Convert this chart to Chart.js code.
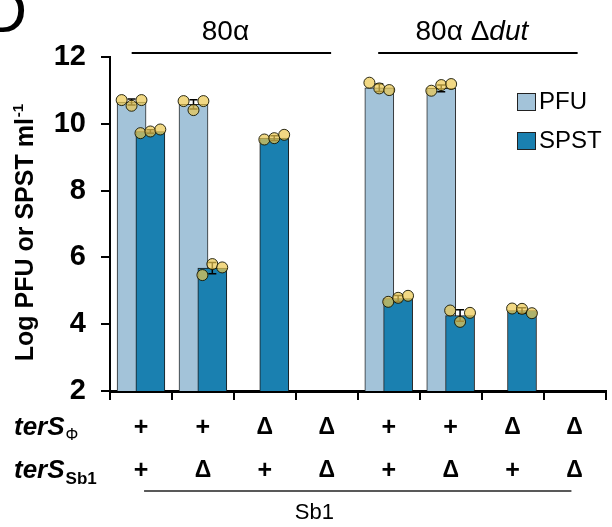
<!DOCTYPE html>
<html>
<head>
<meta charset="utf-8">
<script src="https://cdn.jsdelivr.net/npm/chart.js@4"></script>
<style>
  body { margin: 0; background: #fff; }
</style>
</head>
<body>
<canvas id="chart" width="612" height="527"></canvas>
<script>
// phage groups and the terS genotype rows under the axis
const groupLabels = ['80α', '80α Δ'];
const terSPhi = ['+', '+', 'Δ', 'Δ', '+', '+', 'Δ', 'Δ'];
const terSSb1 = ['+', 'Δ', '+', 'Δ', '+', 'Δ', '+', 'Δ'];
const yTicks = [2, 4, 6, 8, 10, 12];

// bar heights (mean log titre), null = not measured
const pfuMean  = [10.65, 10.58, null, null, 11.08, 11.06, null, null];
const spstMean = [9.77, 5.68, 9.57, null, 4.77, 4.26, 4.41, null];
const pfuErr   = [0.09, 0.14, 0, 0, 0.11, 0.10, 0, 0];
const spstErr  = [0.05, 0.17, 0.07, 0, 0.09, 0.17, 0.08, 0];

// replicate points
const pfuReps  = [[10.71, 10.54, 10.71], [10.68, 10.41, 10.68], null, null,
                  [11.23, 11.06, 11.01], [10.99, 11.16, 11.19], null, null];
const spstReps = [[9.72, 9.77, 9.83], [5.47, 5.80, 5.70], [9.53, 9.57, 9.67], null,
                  [4.67, 4.79, 4.85], [4.41, 4.07, 4.34], [4.47, 4.46, 4.33], null];

const FONT = '"Liberation Sans", Arial, sans-serif';
const PFU_SHIFT = -0.152;
const SPST_SHIFT = 0.152;
const jitter = [-0.16, 0, 0.16];

const barPoints = (vals, shift) => vals.map((v, i) => ({ x: i + 0.5 + shift, y: v }));

const dots = [];
[[pfuReps, PFU_SHIFT], [spstReps, SPST_SHIFT]].forEach(([reps, shift]) => {
    reps.forEach((r, i) => {
        if (!r) return;
        r.forEach((v, j) => dots.push({ x: i + 0.5 + shift + jitter[j], y: v }));
    });
});

const deco = {
    id: 'deco',
    beforeDatasetDraw(chart, args) {
        if (args.index !== 2) return;
        const { x, y } = chart.scales;
        const ctx = chart.ctx;
        ctx.save();
        ctx.strokeStyle = '#000';
        ctx.lineWidth = 1.5;
        [[pfuMean, pfuErr, PFU_SHIFT], [spstMean, spstErr, SPST_SHIFT]].forEach(([m, e, sh]) => {
            m.forEach((v, i) => {
                if (v == null || !e[i]) return;
                const px = x.getPixelForValue(i + 0.5 + sh);
                const top = y.getPixelForValue(v + e[i]);
                const bot = y.getPixelForValue(v - e[i]);
                ctx.beginPath();
                ctx.moveTo(px, top); ctx.lineTo(px, bot);
                ctx.moveTo(px - 4, top); ctx.lineTo(px + 4, top);
                ctx.moveTo(px - 4, bot); ctx.lineTo(px + 4, bot);
                ctx.stroke();
            });
        });
        ctx.restore();
    },
    afterDraw(chart) {
        const { x, y } = chart.scales;
        const ctx = chart.ctx;
        ctx.save();
        ctx.fillStyle = '#000';
        ctx.strokeStyle = '#000';

        // panel letter, mostly off the page
        ctx.font = `62px ${FONT}`;
        ctx.textAlign = 'right';
        ctx.textBaseline = 'alphabetic';
        ctx.fillText('D', 27, 32);

        // phage group headers
        ctx.lineWidth = 2;
        [[0.35, 3.57], [4.33, 7.55]].forEach(([a, b], g) => {
            const x0 = x.getPixelForValue(a), x1 = x.getPixelForValue(b);
            ctx.beginPath(); ctx.moveTo(x0, 53); ctx.lineTo(x1, 53); ctx.stroke();
            const cx = (x0 + x1) / 2 - 6;
            ctx.textAlign = 'left';
            ctx.font = `28px ${FONT}`;
            const w1 = ctx.measureText(groupLabels[g]).width;
            let w2 = 0;
            if (g === 1) { ctx.font = `italic 28px ${FONT}`; w2 = ctx.measureText('dut').width; }
            const sx = cx - (w1 + w2) / 2;
            ctx.font = `28px ${FONT}`;
            ctx.fillText(groupLabels[g], sx, 40);
            if (g === 1) { ctx.font = `italic 28px ${FONT}`; ctx.fillText('dut', sx + w1, 40); }
        });

        // legend
        [['PFU', '#a3c3d9', 93], ['SPST', '#1a80b0', 132]].forEach(([t, c, ty]) => {
            ctx.fillStyle = c;
            ctx.fillRect(517, ty, 18, 17);
            ctx.lineWidth = 1;
            ctx.strokeStyle = '#222';
            ctx.strokeRect(517.5, ty + 0.5, 18, 17);
            ctx.fillStyle = '#000';
            ctx.font = `24px ${FONT}`;
            ctx.textAlign = 'left';
            ctx.textBaseline = 'middle';
            ctx.fillText(t, 539, ty + 9);
        });

        // y title
        ctx.save();
        ctx.translate(33, 233);
        ctx.rotate(-Math.PI / 2);
        ctx.textBaseline = 'alphabetic';
        ctx.font = `bold 25px ${FONT}`;
        const main = 'Log PFU or SPST ml';
        const wm = ctx.measureText(main).width;
        ctx.font = `bold 15px ${FONT}`;
        const ws = ctx.measureText('-1').width;
        const s0 = -(wm + ws) / 2;
        ctx.font = `bold 25px ${FONT}`;
        ctx.textAlign = 'left';
        ctx.fillText(main, s0, 0);
        ctx.font = `bold 15px ${FONT}`;
        ctx.fillText('-1', s0 + wm + 1, -10);
        ctx.restore();

        // genotype table
        const rowY = [428, 471];
        ctx.textBaseline = 'middle';
        ctx.textAlign = 'left';
        ctx.font = `italic bold 26px ${FONT}`;
        ctx.fillText('terS', 14, rowY[0]);
        const wt = ctx.measureText('terS').width;
        ctx.font = `16px ${FONT}`;
        ctx.fillText('Φ', 14 + wt + 1, rowY[0] + 8);
        ctx.font = `italic bold 26px ${FONT}`;
        ctx.fillText('terS', 14, rowY[1]);
        ctx.font = `bold 17px ${FONT}`;
        ctx.fillText('Sb1', 14 + wt + 1, rowY[1] + 8);

        ctx.textAlign = 'center';
        [terSPhi, terSSb1].forEach((row, r) => {
            row.forEach((s, i) => {
                const px = x.getPixelForValue(i + 0.5);
                ctx.font = s === '+' ? `bold 25px ${FONT}` : `bold 23px ${FONT}`;
                ctx.fillText(s, px, rowY[r]);
            });
        });

        ctx.lineWidth = 1.5;
        ctx.beginPath();
        ctx.moveTo(x.getPixelForValue(0.55), 491);
        ctx.lineTo(x.getPixelForValue(7.45), 491);
        ctx.stroke();
        ctx.font = `22px ${FONT}`;
        ctx.fillText('Sb1', x.getPixelForValue(3.3), 513);
        ctx.restore();
    }
};

new Chart(document.getElementById('chart'), {
    type: 'bar',
    data: {
        datasets: [
            {
                label: 'PFU',
                data: barPoints(pfuMean, PFU_SHIFT),
                backgroundColor: '#a3c3d9',
                borderColor: '#2b2b2b',
                borderWidth: 1,
                barThickness: 29,
                grouped: false,
                order: 3
            },
            {
                label: 'SPST',
                data: barPoints(spstMean, SPST_SHIFT),
                backgroundColor: '#1a80b0',
                borderColor: '#1b1b1b',
                borderWidth: 1,
                barThickness: 29,
                grouped: false,
                order: 2
            },
            {
                type: 'scatter',
                label: 'reps',
                data: dots,
                pointRadius: 5.5,
                backgroundColor: 'rgba(235, 200, 80, 0.7)',
                borderColor: 'rgba(20, 20, 0, 0.9)',
                borderWidth: 1,
                order: 0
            }
        ]
    },
    options: {
        responsive: false,
        animation: false,
        layout: { padding: { top: 57, right: 3, left: 0, bottom: 0 } },
        plugins: { legend: { display: false }, tooltip: { enabled: false } },
        scales: {
            x: {
                type: 'linear',
                min: 0,
                max: 8,
                offset: false,
                ticks: { display: false, stepSize: 1 },
                grid: { drawOnChartArea: false, drawTicks: true, tickLength: 9, color: '#000', lineWidth: 2, offset: false },
                border: { color: '#000', width: 3 },
                afterFit: s => { s.height = 136; s.paddingLeft = 0; s.paddingRight = 0; }
            },
            y: {
                min: 2,
                max: 12,
                afterBuildTicks: s => { s.ticks = yTicks.map(v => ({ value: v })); },
                ticks: { color: '#000', padding: 15, font: { family: FONT, size: 29, weight: 'bold' } },
                grid: { drawOnChartArea: false, tickLength: 9, color: '#000', lineWidth: 2 },
                border: { color: '#000', width: 2 },
                afterFit: s => { s.width = 110; s.paddingTop = 0; s.paddingBottom = 0; }
            }
        }
    },
    plugins: [deco]
});
</script>
</body>
</html>
